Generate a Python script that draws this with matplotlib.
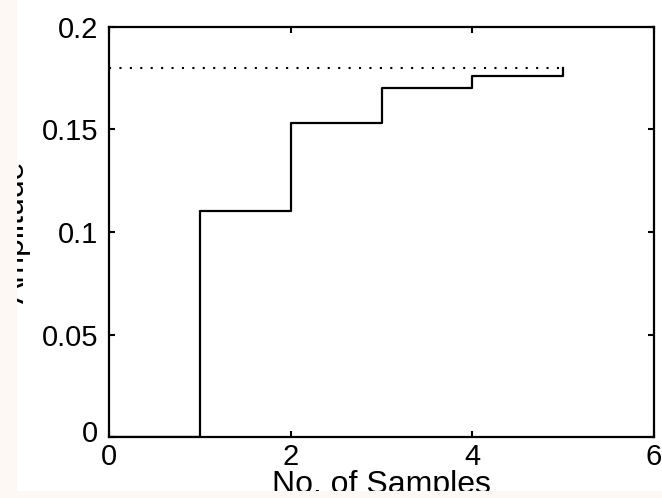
import numpy as np
import matplotlib
matplotlib.use("Agg")
import matplotlib.pyplot as plt
from matplotlib import patches
from matplotlib.transforms import ScaledTranslation

plt.rcParams["font.family"] = ["Liberation Sans", "DejaVu Sans"]

# sampled step response and its final value
samples = [0, 1, 2, 3, 4, 5]
amplitude = [0, 0.11, 0.153, 0.17, 0.176, 0.18]
final_value = 0.18
xticks = [0, 2, 4, 6]
yticks = [0, 0.05, 0.1, 0.15, 0.2]
ytick_labels = ["0", "0.05", "0.1", "0.15", "0.2"]

W, H = 662, 498
fig = plt.figure(figsize=(W / 100, H / 100), dpi=100)
fig.patch.set_facecolor("white")

# axes box in pixels: left 109, right 654, top 27, bottom 437
ax = fig.add_axes([109 / W, (H - 437) / H, (654 - 109) / W, (437 - 27) / H])

ax.step(samples, amplitude, where="post", color="black", lw=1.6)
ax.plot([0, samples[-1]], [final_value, final_value], color="black",
        lw=1.5, linestyle=(0, (1, 4)))

ax.set_xlim(0, 6)
ax.set_ylim(0, 0.2)
ax.set_xticks(xticks)
ax.set_yticks(yticks)
ax.set_yticklabels(ytick_labels)
ax.tick_params(direction="in", length=4.5, width=1.5, labelsize=21,
               top=True, right=True, colors="black")
ax.tick_params(axis="x", pad=4.5)
ax.tick_params(axis="y", pad=8)
for s in ax.spines.values():
    s.set_linewidth(1.6)

# lift the y "0" so it clears the x "0"
zero = ax.yaxis.get_major_ticks()[0].label1
zero.set_transform(zero.get_transform() + ScaledTranslation(0, 4.5 / 72, fig.dpi_scale_trans))

ax.set_xlabel("No. of Samples", fontsize=23)
ax.set_ylabel("Amplitude", fontsize=23)
ax.xaxis.set_label_coords(0.5, (437 - 470) / 410)
ax.yaxis.set_label_coords((31 - 109) / 545, 0.5)

# light border strips along the left and bottom edges
edge = "#fdf8f3"
fig.patches.append(patches.Rectangle((0, 0), 17 / W, 1, transform=fig.transFigure,
                                     facecolor=edge, edgecolor="none", zorder=10))
fig.patches.append(patches.Rectangle((0, 0), 1, (H - 491) / H, transform=fig.transFigure,
                                     facecolor=edge, edgecolor="none", zorder=10))

fig.savefig("out.png", dpi=100)
